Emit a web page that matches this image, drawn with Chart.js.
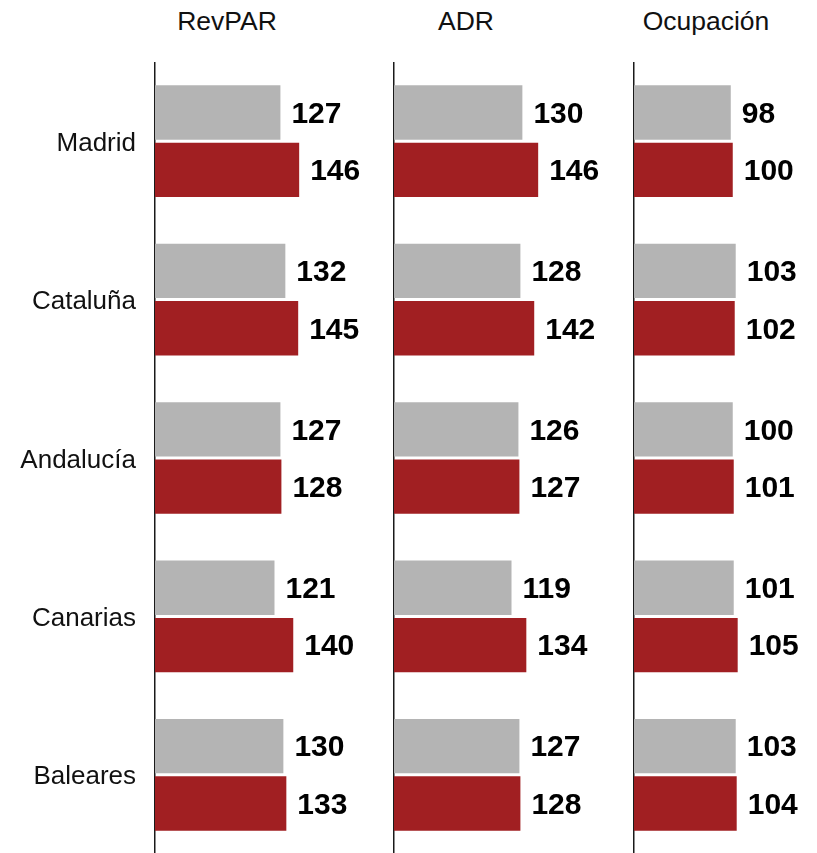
<!DOCTYPE html>
<html lang="es">
<head>
  <meta charset="UTF-8">
  <title>RevPAR, ADR y Ocupación por comunidad</title>
  <style>
    html, body {
      margin: 0;
      padding: 0;
      background: #fff;
      overflow: hidden;
      width: 817px;
      height: 853px;
      font-family: Arial, "Liberation Sans", sans-serif;
    }

    .panel {
      position: absolute;
      top: 62px;
    }

    .titulo {
      position: absolute;
      top: 6px;
      width: 200px;
      text-align: center;
      font-size: 26.5px;
      color: #111;
    }
  </style>
</head>
<body>
  <div class="titulo" id="t0"></div>
  <div class="titulo" id="t1"></div>
  <div class="titulo" id="t2"></div>
  <canvas class="panel" id="c0"></canvas>
  <canvas class="panel" id="c1"></canvas>
  <canvas class="panel" id="c2"></canvas>

  <script src="https://cdn.jsdelivr.net/npm/chart.js"></script>
  <script>
    // Datos
    const regiones = ['Madrid', 'Cataluña', 'Andalucía', 'Canarias', 'Baleares'];
    const titulos = ['RevPAR', 'ADR', 'Ocupación'];

    const revparAnterior = [127, 132, 127, 121, 130];
    const revparActual = [146, 145, 128, 140, 133];
    const adrAnterior = [130, 128, 126, 119, 127];
    const adrActual = [146, 142, 127, 134, 128];
    const ocupAnterior = [98, 103, 100, 101, 103];
    const ocupActual = [100, 102, 101, 105, 104];

    const series = [
      [revparAnterior, revparActual],
      [adrAnterior, adrActual],
      [ocupAnterior, ocupActual]
    ];

    // posicion del eje de cada panel (px)
    const ejes = [155, 394, 634];
    const anchoArea = 237;
    const maxX = 240;
    const alto = 792;

    const fuente = 'Arial, "Liberation Sans", sans-serif';

    // etiquetas de valor al final de cada barra
    const etiquetas = {
      id: 'etiquetas',
      afterDatasetsDraw(chart) {
        const ctx = chart.ctx;
        ctx.save();
        ctx.font = 'bold 30px ' + fuente;
        ctx.fillStyle = '#000';
        ctx.textAlign = 'left';
        ctx.textBaseline = 'middle';
        chart.data.datasets.forEach((ds, i) => {
          chart.getDatasetMeta(i).data.forEach((bar, j) => {
            ctx.fillText(ds.data[j], bar.x + 11, bar.y + 2);
          });
        });
        ctx.restore();
      }
    };

    titulos.forEach((t, p) => {
      const tit = document.getElementById('t' + p);
      tit.textContent = t;
      tit.style.left = (ejes[p] + 72 - 100) + 'px';

      const anchoEje = p === 0 ? ejes[0] : 20;
      const canvas = document.getElementById('c' + p);
      canvas.width = anchoEje + anchoArea;
      canvas.height = alto;
      canvas.style.left = (ejes[p] - anchoEje) + 'px';

      new Chart(canvas.getContext('2d'), {
        type: 'bar',
        data: {
          labels: regiones,
          datasets: [
            {
              data: series[p][0],
              backgroundColor: '#b4b4b4',
              barPercentage: 0.948,
              categoryPercentage: 0.724
            },
            {
              data: series[p][1],
              backgroundColor: '#a11f22',
              barPercentage: 0.948,
              categoryPercentage: 0.724
            }
          ]
        },
        options: {
          indexAxis: 'y',
          responsive: false,
          animation: false,
          layout: { padding: 0 },
          plugins: {
            legend: { display: false },
            tooltip: { enabled: false }
          },
          scales: {
            x: {
              display: false,
              min: 0,
              max: maxX
            },
            y: {
              afterFit(scale) {
                scale.width = anchoEje;
                scale.paddingTop = 0;
                scale.paddingBottom = 0;
              },
              grid: { display: false, drawTicks: false },
              border: { display: true, color: '#1a1a1a', width: 1.5 },
              ticks: {
                display: p === 0,
                padding: 19,
                labelOffset: 2.5,
                color: '#111',
                font: { family: fuente, size: 26 }
              }
            }
          }
        },
        plugins: [etiquetas]
      });
    });
  </script>
</body>
</html>
